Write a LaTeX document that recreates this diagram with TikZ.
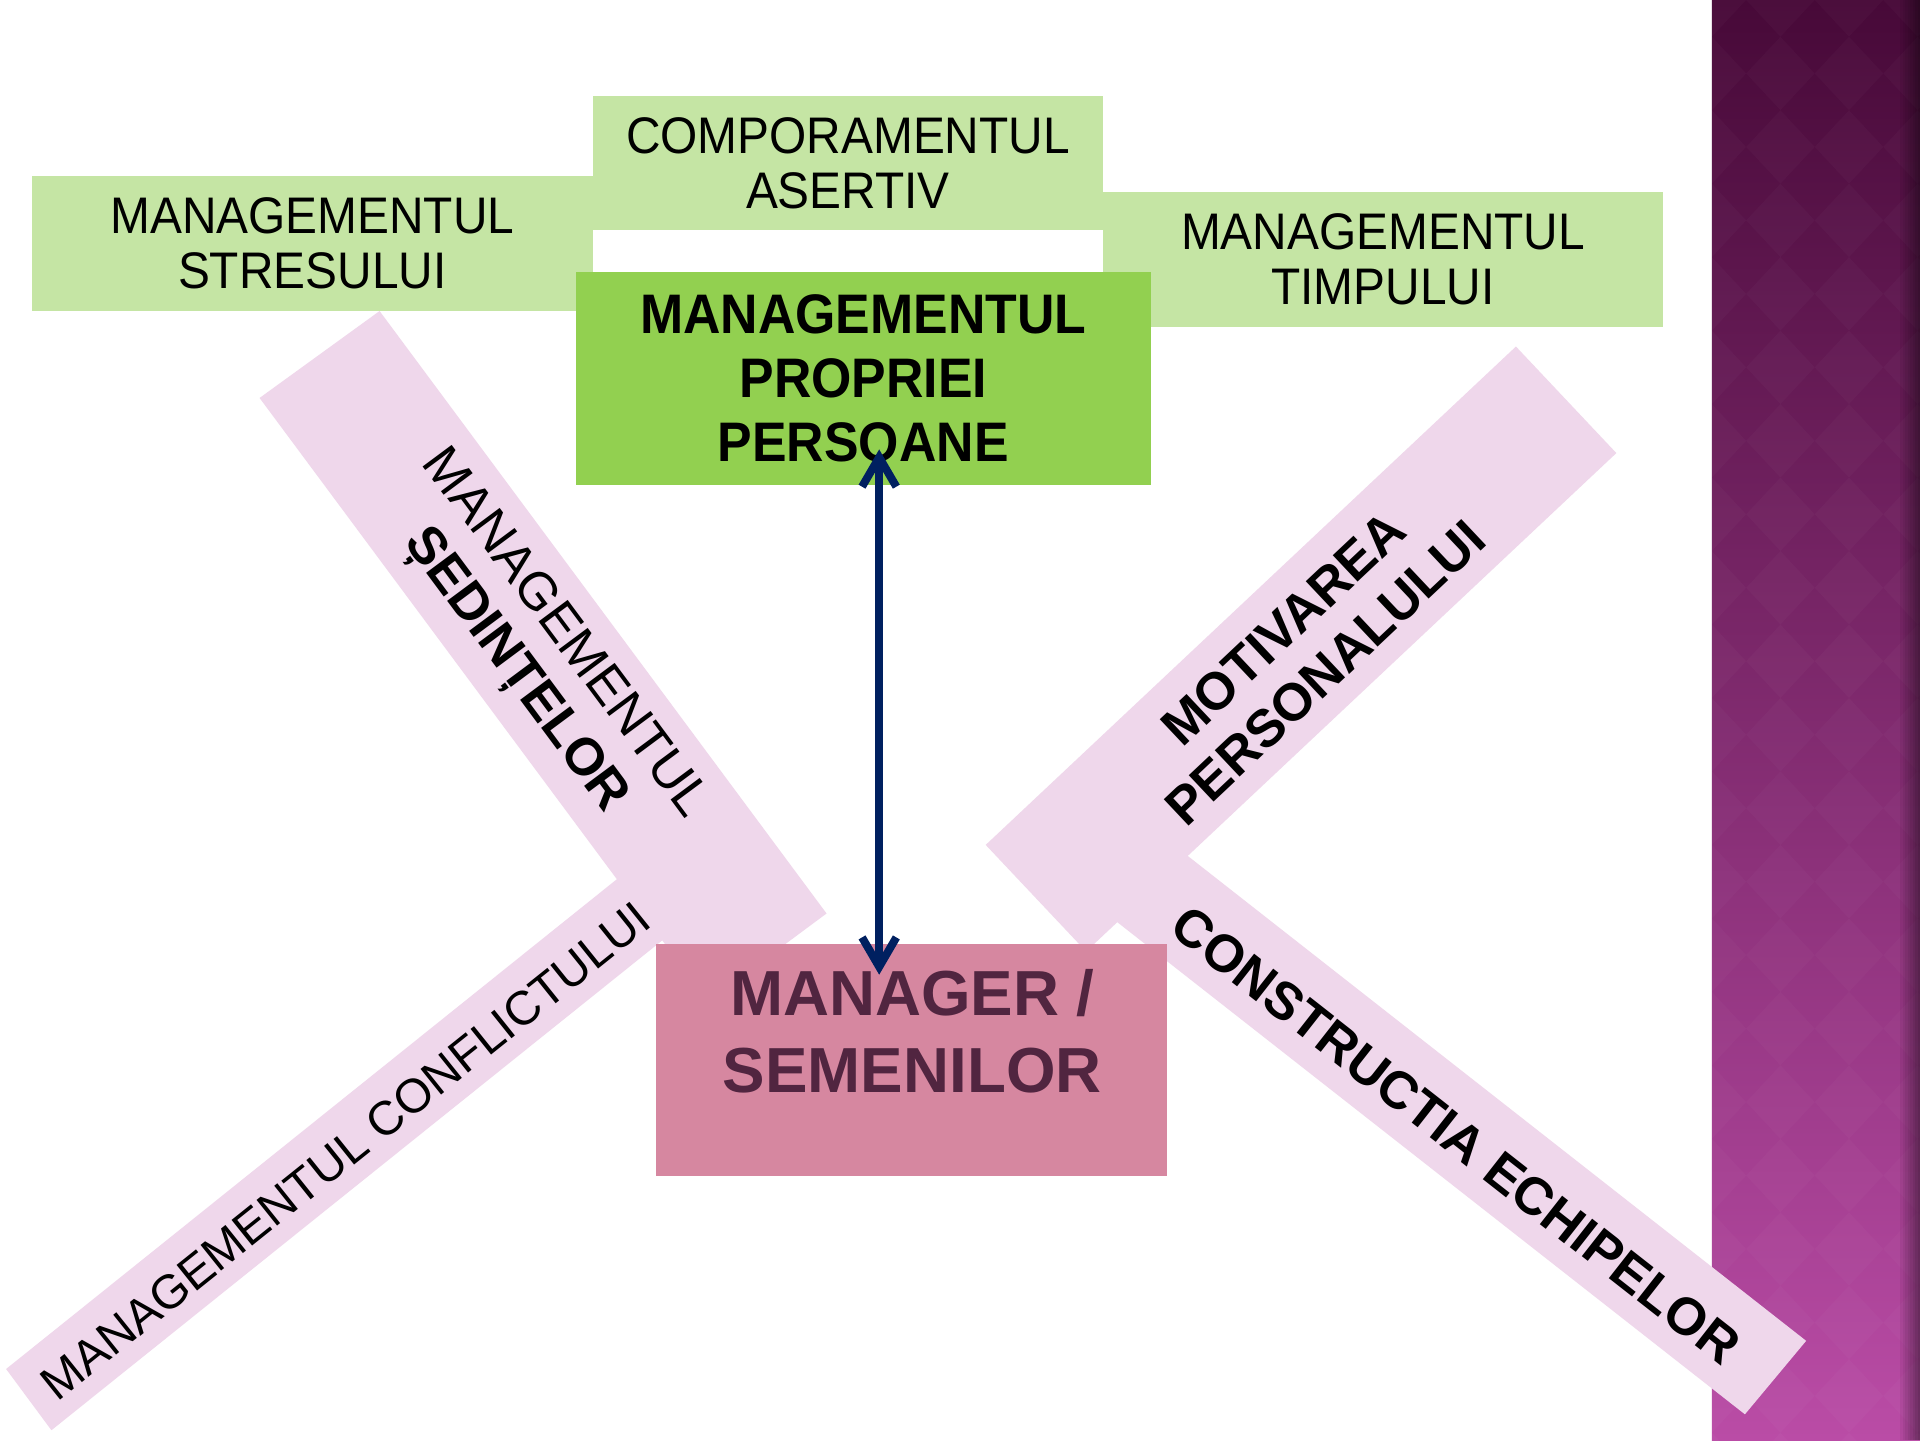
\documentclass[tikz,border=0pt]{standalone}
\usepackage{fontspec}
\setmainfont{Liberation Sans}
\newfontfamily\condsans[FakeStretch=0.93]{Liberation Sans}
\usetikzlibrary{arrows.meta}

\definecolor{leafpale}{HTML}{C5E5A4}
\definecolor{leafgreen}{HTML}{92D050}
\definecolor{rosebox}{HTML}{D687A0}
\definecolor{rosetext}{HTML}{512540}
\definecolor{lilacband}{HTML}{EFD7EB}
\definecolor{navyarrow}{HTML}{002060}
\definecolor{plumtop}{HTML}{470938}
\definecolor{plumbottom}{HTML}{BA4CA6}

\begin{document}
\begin{tikzpicture}[x=1pt,y=-1pt,
  boxbase/.style={inner sep=0pt, outer sep=0pt, align=center},
  lbox/.style={boxbase, fill=leafpale,
    font=\condsans\fontsize{42}{45}\selectfont},
  mainbox/.style={boxbase, fill=leafgreen,
    font=\condsans\bfseries\fontsize{45.5}{52.5}\selectfont},
  peerbox/.style={boxbase, fill=rosebox},
  band/.style={fill=lilacband},
  bandtext/.style={inner sep=0pt, outer sep=0pt, align=center},
  link/.style={draw=navyarrow, line width=6.5pt,
    {Straight Barb[length=24pt,width=28pt]}-{Straight Barb[length=24pt,width=28pt]}}
]
% canvas
\fill[white] (0,0) rectangle (1568,1176);
\useasboundingbox (0,0) rectangle (1568,1176);

% decorative plum strip on the right
\shade[top color=plumtop, bottom color=plumbottom] (1398,0) rectangle (1568,1176);
\begin{scope}
  \clip (1398,0) rectangle (1568,1176);
  \foreach \k in {0,...,20} {
    \foreach \i in {0,...,3} {
      \fill[white, opacity=0.022]
        ({1398+56*\i-28},{60*\k}) -- ({1398+56*\i},{60*\k-30}) --
        ({1398+56*\i+28},{60*\k}) -- ({1398+56*\i},{60*\k+30}) -- cycle;
    }
  }
  \foreach \s in {0,...,7} {
    \fill[black, opacity={0.06+0.05*\s}] ({1552+2*\s},0) rectangle ({1554+2*\s},1176);
  }
\end{scope}

% diagonal bands
\coordinate (b1a) at (310,254);
\coordinate (b1b) at (675,746);
\coordinate (b1c) at (578,818);
\coordinate (b1d) at (212,325);
\fill[band] (b1a) -- (b1b) -- (b1c) -- (b1d) -- cycle;

\coordinate (b2a) at (5,1118);
\coordinate (b2b) at (520,705);
\coordinate (b2c) at (557,755);
\coordinate (b2d) at (42,1168);
\fill[band] (b2a) -- (b2b) -- (b2c) -- (b2d) -- cycle;

\coordinate (b3a) at (1238,283);
\coordinate (b3b) at (1320,370);
\coordinate (b3c) at (887,777);
\coordinate (b3d) at (805,690);
\fill[band] (b3a) -- (b3b) -- (b3c) -- (b3d) -- cycle;

\coordinate (b4a) at (933,670);
\coordinate (b4b) at (1475,1095);
\coordinate (b4c) at (1425,1155);
\coordinate (b4d) at (883,730);
\fill[band] (b4a) -- (b4b) -- (b4c) -- (b4d) -- cycle;

% band labels
\node[bandtext, rotate=-53.4, font=\fontsize{43}{50}\selectfont] (sedinte) at (440,533)
  {MANAGEMENTUL\\{\bfseries ȘEDINȚELOR}};
\node[bandtext, rotate=38.7, font=\fontsize{39}{45}\selectfont] (conflict) at (282,940)
  {MANAGEMENTUL CONFLICTULUI};
\node[bandtext, rotate=43.3, font=\bfseries\fontsize{43}{50}\selectfont] (motivare) at (1065,531)
  {MOTIVAREA\\PERSONALULUI};
\node[bandtext, rotate=-38.1, font=\bfseries\fontsize{43}{48}\selectfont] (echipe) at (1189,927)
  {CONSTRUCTIA ECHIPELOR};

% top row of skills
\node[lbox, minimum width=458pt, minimum height=110pt] (stres) at (255,199)
  {MANAGEMENTUL\\STRESULUI};
\node[lbox, minimum width=417pt, minimum height=110pt] (asertiv) at (692.5,133)
  {COMPORAMENTUL\\ASERTIV};
\node[lbox, minimum width=457pt, minimum height=110pt] (timp) at (1129.5,212)
  {MANAGEMENTUL\\TIMPULUI};

% central boxes
\node[mainbox, minimum width=470pt, minimum height=174pt] (self) at (705,309)
  {MANAGEMENTUL\\PROPRIEI\\PERSOANE};
\node[peerbox, minimum width=417pt, minimum height=189pt] (peers) at (744.5,865.5) {};
\node[bandtext, text=rosetext, font=\bfseries\fontsize{52}{63}\selectfont] (peerslabel) at (745,842.5)
  {MANAGER /\\SEMENILOR};

% two-way link
\draw[link] ([xshift=13pt,yshift=29pt]self.south) -- ([xshift=-26.5pt,yshift=-25pt]peers.north);
\end{tikzpicture}
\end{document}
